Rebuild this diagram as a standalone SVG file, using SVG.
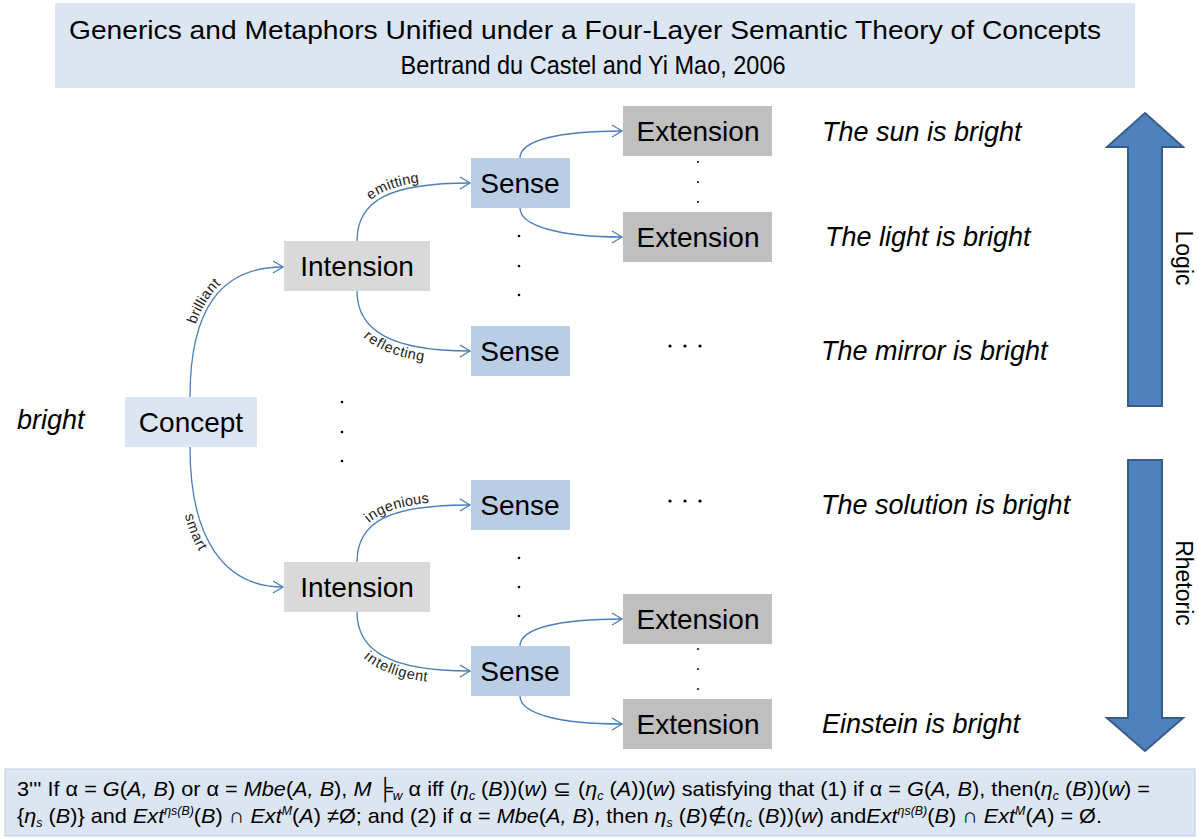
<svg xmlns="http://www.w3.org/2000/svg" width="1198" height="839" viewBox="0 0 1198 839">
<style>
.lbl{font-family:"Liberation Sans",Arial,sans-serif;font-size:28px;fill:#000;text-anchor:middle;dominant-baseline:central}
.sent{font-family:"Liberation Sans",Arial,sans-serif;font-size:27px;font-style:italic;fill:#000}
.edge{fill:none;stroke:#4a7ebb;stroke-width:1.3}
.elbl{font-family:"Liberation Sans",Arial,sans-serif;font-size:14.5px;fill:#222}
.dot{fill:#000}
.it{font-style:italic}
.formula{font-family:"Liberation Sans",Arial,sans-serif;font-size:21px;fill:#000}
.side{font-family:"Liberation Sans",Arial,sans-serif;font-size:23px;fill:#000;text-anchor:middle;dominant-baseline:central}
.big{fill:#4f81bd;stroke:#385d8a;stroke-width:2}
</style>
<defs>
<marker id="ah" markerWidth="14" markerHeight="14" refX="11" refY="7" orient="auto" markerUnits="userSpaceOnUse">
<path d="M1,1 L11,7 L1,13" fill="none" stroke="#4a7ebb" stroke-width="1.3"/>
</marker>
</defs>
<rect width="1198" height="839" fill="#ffffff"/>

<g id="title">
<rect x="55" y="3" width="1080" height="85" fill="#dce6f2"/>
<text x="585" y="39" font-family="'Liberation Sans',Arial,sans-serif" font-size="26" text-anchor="middle" textLength="1032" lengthAdjust="spacingAndGlyphs">Generics and Metaphors Unified under a Four-Layer Semantic Theory of Concepts</text>
<text x="593" y="74" font-family="'Liberation Sans',Arial,sans-serif" font-size="26" text-anchor="middle" textLength="385" lengthAdjust="spacingAndGlyphs">Bertrand du Castel and Yi Mao, 2006</text>
</g>

<g id="connectors">
<path id="p1" class="edge" d="M190,397 C190,310 220,267 283,267" marker-end="url(#ah)"/>
<path id="p2" class="edge" d="M190,447 C190,540 225,587 283,587" marker-end="url(#ah)"/>
<path id="p3" class="edge" d="M357,241 C357,200 390,183 470,183" marker-end="url(#ah)"/>
<path id="p4" class="edge" d="M357,291 C357,330 390,351 470,351" marker-end="url(#ah)"/>
<path id="p5" class="edge" d="M357,562 C357,521 390,505 470,505" marker-end="url(#ah)"/>
<path id="p6" class="edge" d="M357,612 C357,651 390,671 470,671" marker-end="url(#ah)"/>
<path class="edge" d="M520,158 C520,140 560,131 622,131" marker-end="url(#ah)"/>
<path class="edge" d="M520,208 C520,226 560,237 622,237" marker-end="url(#ah)"/>
<path class="edge" d="M520,646 C520,628 560,619 622,619" marker-end="url(#ah)"/>
<path class="edge" d="M520,696 C520,714 560,724 622,724" marker-end="url(#ah)"/>
<text class="elbl" dy="-4"><textPath href="#p1" startOffset="72">brilliant</textPath></text>
<text class="elbl" dy="13"><textPath href="#p2" startOffset="65">smart</textPath></text>
<text class="elbl" dy="-4"><textPath href="#p3" startOffset="42">emitting</textPath></text>
<text class="elbl" dy="13"><textPath href="#p4" startOffset="40">reflecting</textPath></text>
<text class="elbl" dy="-4"><textPath href="#p5" startOffset="40">ingenious</textPath></text>
<text class="elbl" dy="13"><textPath href="#p6" startOffset="40">intelligent</textPath></text>
</g>

<g id="bright"><text class="sent" x="17" y="429" font-size="29">bright</text></g>

<g id="concept"><rect x="125" y="397" width="132" height="50" fill="#dce6f2"/><text class="lbl" x="191" y="422">Concept</text></g>
<g id="intension1"><rect x="284" y="241" width="146" height="50" fill="#d9d9d9"/><text class="lbl" x="357" y="266">Intension</text></g>
<g id="intension2"><rect x="284" y="562" width="146" height="50" fill="#d9d9d9"/><text class="lbl" x="357" y="587">Intension</text></g>
<g id="sense1"><rect x="471" y="158" width="99" height="50" fill="#b9cde5"/><text class="lbl" x="520" y="183">Sense</text></g>
<g id="sense2"><rect x="471" y="326" width="99" height="50" fill="#b9cde5"/><text class="lbl" x="520" y="351">Sense</text></g>
<g id="sense3"><rect x="471" y="480" width="99" height="50" fill="#b9cde5"/><text class="lbl" x="520" y="505">Sense</text></g>
<g id="sense4"><rect x="471" y="646" width="99" height="50" fill="#b9cde5"/><text class="lbl" x="520" y="671">Sense</text></g>
<g id="extension1"><rect x="623" y="106" width="149" height="50" fill="#bfbfbf"/><text class="lbl" x="698" y="131">Extension</text></g>
<g id="extension2"><rect x="623" y="212" width="149" height="50" fill="#bfbfbf"/><text class="lbl" x="698" y="237">Extension</text></g>
<g id="extension3"><rect x="623" y="594" width="149" height="50" fill="#bfbfbf"/><text class="lbl" x="698" y="619">Extension</text></g>
<g id="extension4"><rect x="623" y="699" width="149" height="50" fill="#bfbfbf"/><text class="lbl" x="698" y="724">Extension</text></g>

<g id="dots">
<circle class="dot" cx="698" cy="162" r="1"/><circle class="dot" cx="698" cy="182" r="1"/><circle class="dot" cx="698" cy="202" r="1"/>
<circle class="dot" cx="519" cy="236" r="1.3"/><circle class="dot" cx="519" cy="266" r="1.3"/><circle class="dot" cx="519" cy="295" r="1.3"/>
<circle class="dot" cx="342" cy="402" r="1.3"/><circle class="dot" cx="342" cy="432" r="1.3"/><circle class="dot" cx="342" cy="461" r="1.3"/>
<circle class="dot" cx="670" cy="346" r="1.6"/><circle class="dot" cx="685" cy="346" r="1.6"/><circle class="dot" cx="700" cy="346" r="1.6"/>
<circle class="dot" cx="670" cy="501" r="1.6"/><circle class="dot" cx="685" cy="501" r="1.6"/><circle class="dot" cx="700" cy="501" r="1.6"/>
<circle class="dot" cx="519" cy="558" r="1.3"/><circle class="dot" cx="519" cy="587" r="1.3"/><circle class="dot" cx="519" cy="616" r="1.3"/>
<circle class="dot" cx="698" cy="649" r="1"/><circle class="dot" cx="698" cy="669" r="1"/><circle class="dot" cx="698" cy="689" r="1"/>
</g>

<g id="sentences">
<text class="sent" x="822" y="141">The sun is bright</text>
<text class="sent" x="825" y="246">The light is bright</text>
<text class="sent" x="821" y="360">The mirror is bright</text>
<text class="sent" x="821" y="514">The solution is bright</text>
<text class="sent" x="822" y="733">Einstein is bright</text>
</g>

<g id="logic">
<polygon class="big" points="1145,113 1183,147 1162,147 1162,406 1128,406 1128,147 1107,147"/>
<text class="side" transform="translate(1184,258) rotate(90)">Logic</text>
</g>
<g id="rhetoric">
<polygon class="big" points="1128,460 1162,460 1162,718 1183,718 1145,751 1107,718 1128,718"/>
<text class="side" transform="translate(1184,583) rotate(90)">Rhetoric</text>
</g>

<g id="formula">
<rect x="5" y="769" width="1190" height="67" fill="#dce6f2" stroke="#b9cde5" stroke-width="1"/>
<text class="formula" x="17" y="796" textLength="1133" lengthAdjust="spacingAndGlyphs">3''' If α = <tspan class="it">G</tspan>(<tspan class="it">A, B</tspan>) or α = <tspan class="it">Mbe</tspan>(<tspan class="it">A, B</tspan>), <tspan class="it">M</tspan> ╞<tspan class="it" font-size="13" dy="4">w</tspan><tspan dy="-4"> α iff (</tspan><tspan class="it">η</tspan><tspan class="it" font-size="12" dy="4">c</tspan><tspan dy="-4"> (</tspan><tspan class="it">B</tspan>))(<tspan class="it">w</tspan>) ⊆ (<tspan class="it">η</tspan><tspan class="it" font-size="12" dy="4">c</tspan><tspan dy="-4"> (</tspan><tspan class="it">A</tspan>))(<tspan class="it">w</tspan>)  satisfying that (1) if α = <tspan class="it">G</tspan>(<tspan class="it">A, B</tspan>), then(<tspan class="it">η</tspan><tspan class="it" font-size="12" dy="4">c</tspan><tspan dy="-4"> (</tspan><tspan class="it">B</tspan>))(<tspan class="it">w</tspan>) =</text>
<text class="formula" x="17" y="823" textLength="1085" lengthAdjust="spacingAndGlyphs">{<tspan class="it">η</tspan><tspan class="it" font-size="12" dy="4">s</tspan><tspan dy="-4"> (</tspan><tspan class="it">B</tspan>)} and <tspan class="it">Ext</tspan><tspan class="it" font-size="12" dy="-8">ηs(B)</tspan><tspan dy="8">(</tspan><tspan class="it">B</tspan>) ∩ <tspan class="it">Ext</tspan><tspan class="it" font-size="12" dy="-8">M</tspan><tspan dy="8">(</tspan><tspan class="it">A</tspan>) ≠Ø; and (2) if α = <tspan class="it">Mbe</tspan>(<tspan class="it">A, B</tspan>), then <tspan class="it">η</tspan><tspan class="it" font-size="12" dy="4">s</tspan><tspan dy="-4"> (</tspan><tspan class="it">B</tspan>)∉(<tspan class="it">η</tspan><tspan class="it" font-size="12" dy="4">c</tspan><tspan dy="-4"> (</tspan><tspan class="it">B</tspan>))(<tspan class="it">w</tspan>) and<tspan class="it">Ext</tspan><tspan class="it" font-size="12" dy="-8">ηs(B)</tspan><tspan dy="8">(</tspan><tspan class="it">B</tspan>) ∩ <tspan class="it">Ext</tspan><tspan class="it" font-size="12" dy="-8">M</tspan><tspan dy="8">(</tspan><tspan class="it">A</tspan>) = Ø.</text>
</g>
</svg>
